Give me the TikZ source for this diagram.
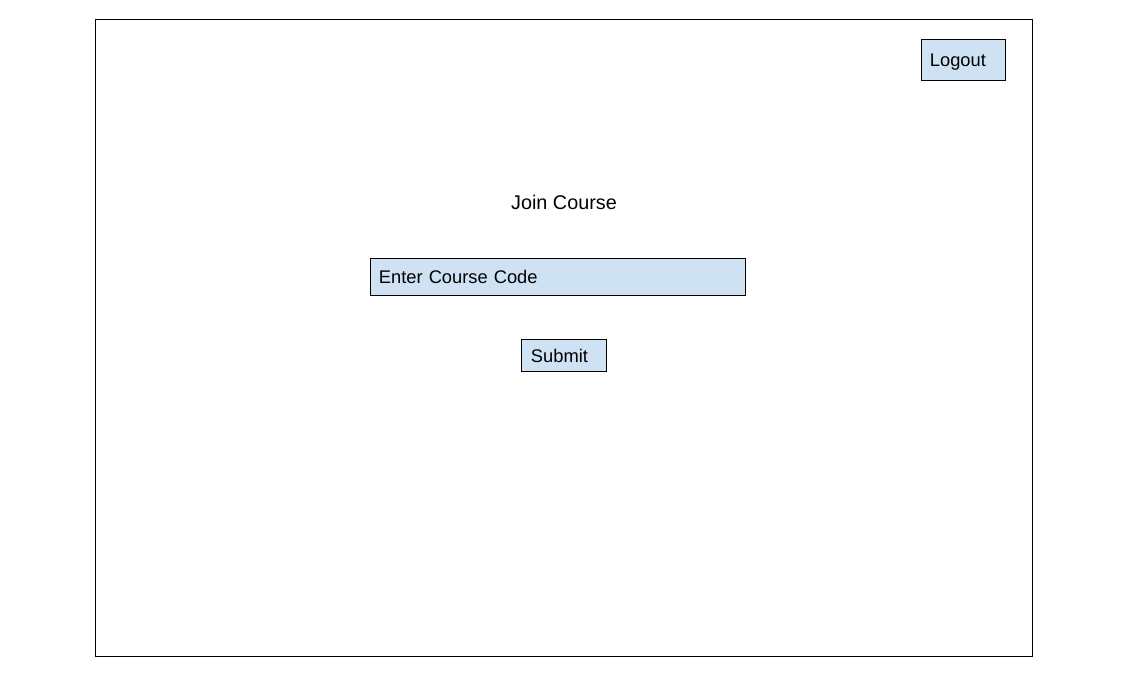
\documentclass[tikz,border=0pt]{standalone}
\usepackage{fontspec}
\setmainfont{Liberation Sans}
\definecolor{boxblue}{HTML}{CFE2F3}
\tikzset{
  uibox/.style={draw=black, fill=boxblue, line width=0.9pt, anchor=north west,
    align=left, font=\fontsize{18.3}{22}\selectfont, inner ysep=0pt,
    text height=17pt, text depth=3.5pt},
  label/.style={font=\fontsize{19.8}{24}\selectfont, inner sep=0pt}
}
\begin{document}
\begin{tikzpicture}[x=1pt,y=-1pt]
\useasboundingbox (0,0) rectangle (1127,700);
\fill[white] (0,0) rectangle (1127,700);
\node[draw=black, line width=0.9pt, anchor=north west, minimum width=937pt, minimum height=637pt, inner sep=0pt] (frame) at (94.5,19) {};
\node[uibox, minimum height=41pt, inner xsep=9pt, text width=66pt] (logout) at (920.5,39) {Logout};
\node[label] (title) at (564,202) {Join Course};
\node[uibox, minimum height=37pt, inner xsep=9pt, text width=357pt] (code) at (369.5,258) {Enter Course Code};
\node[uibox, minimum height=32pt, inner xsep=10pt, text width=65pt] (submit) at (520.5,339) {Submit};
\end{tikzpicture}
\end{document}
